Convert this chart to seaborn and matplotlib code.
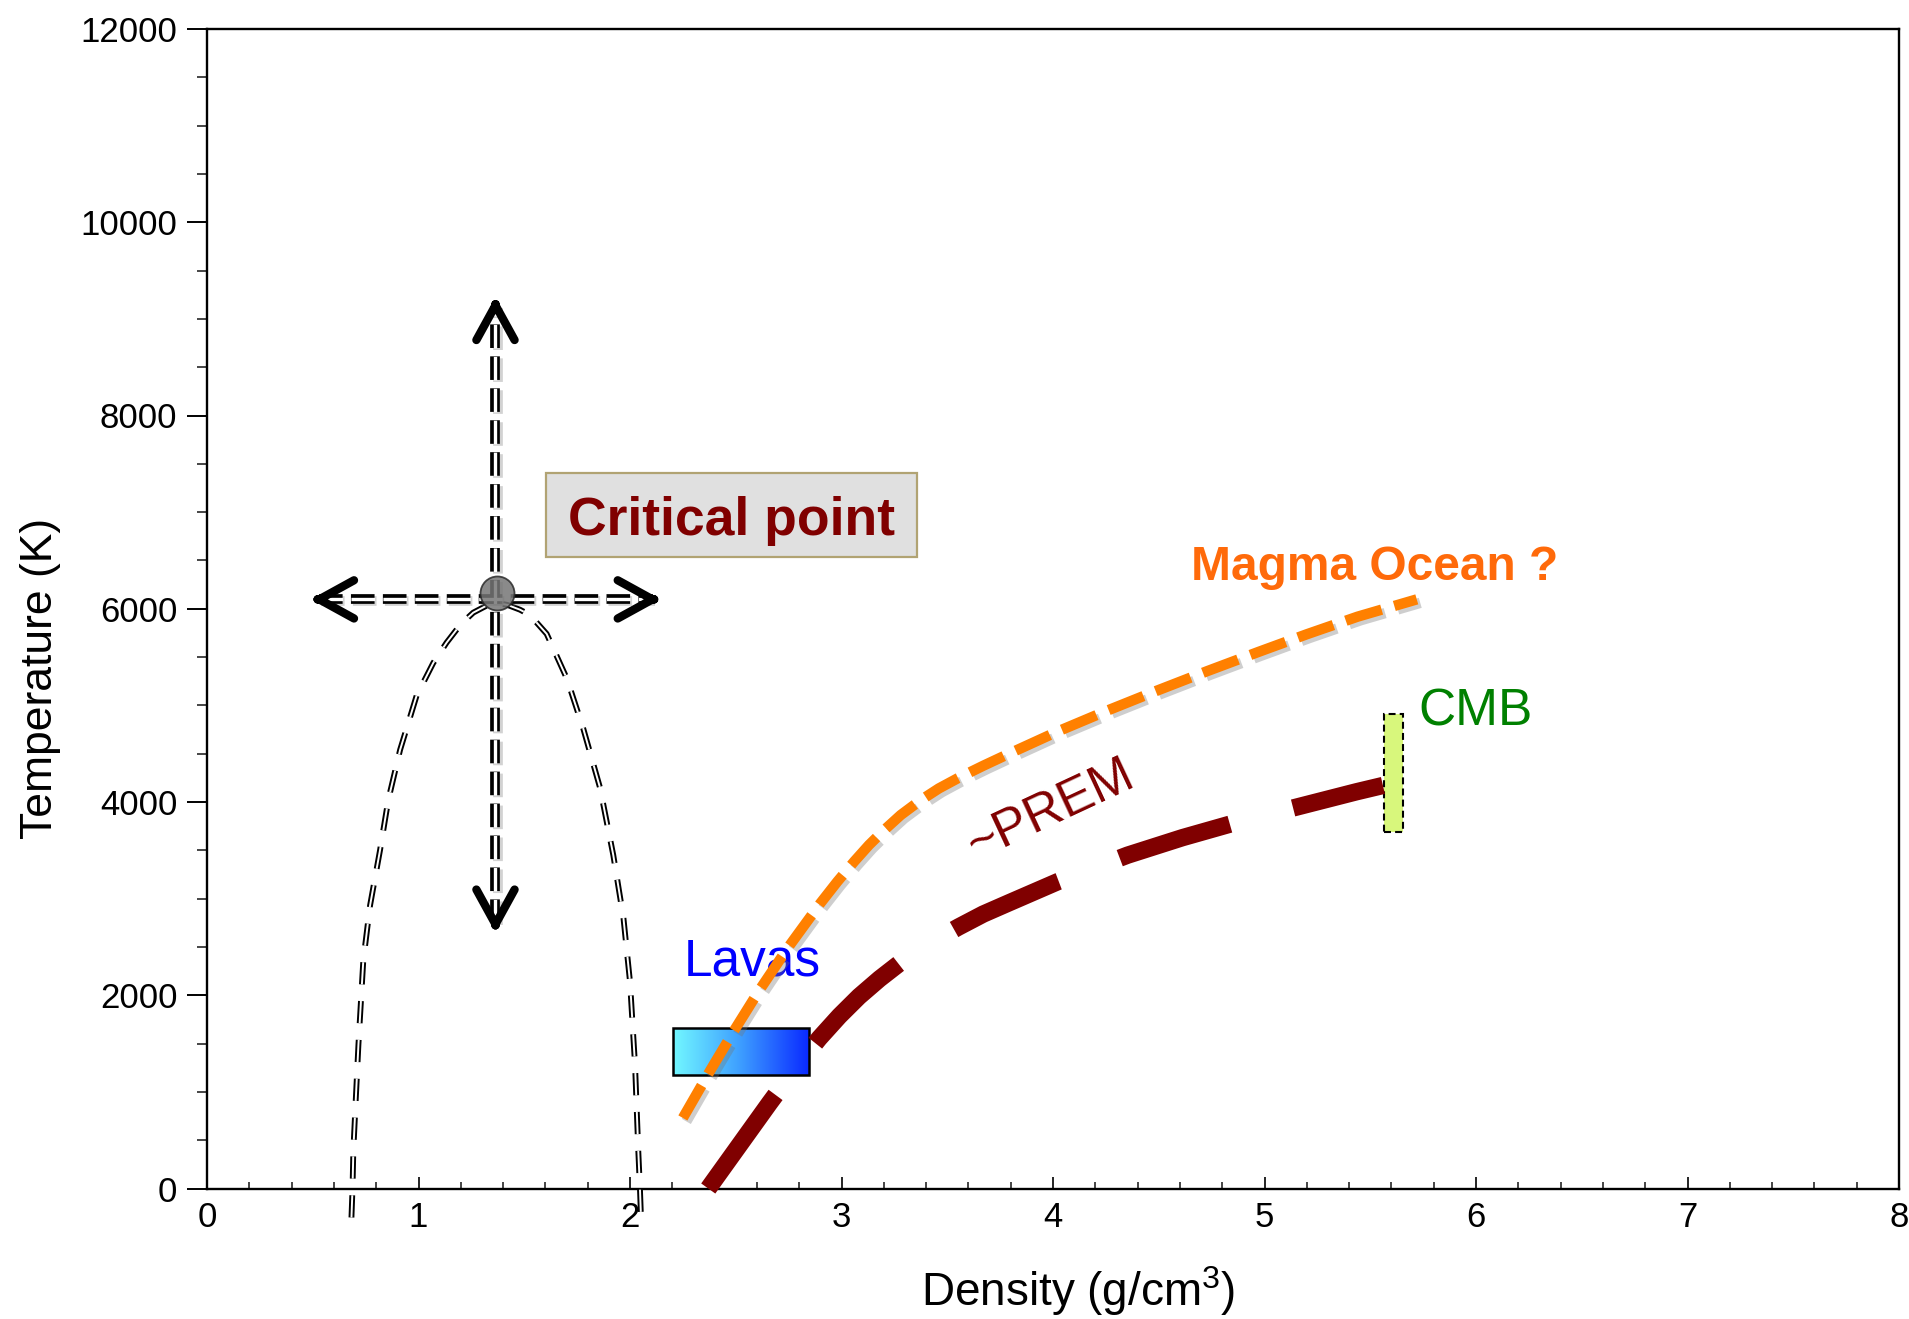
import numpy as np
import pandas as pd
import matplotlib
matplotlib.use("Agg")
import matplotlib.pyplot as plt
import matplotlib.patheffects as pe
import seaborn as sns
from matplotlib.patches import Rectangle
from matplotlib.colors import LinearSegmentedColormap
from matplotlib.ticker import MultipleLocator

# ---- data -------------------------------------------------------------
# liquid-vapour coexistence dome (left branch, over the top, right branch)
dome_density = [0.683, 0.688, 0.692, 0.704, 0.716, 0.739, 0.771, 0.818, 0.857,
                0.913, 0.991, 1.070, 1.133, 1.200, 1.259, 1.320, 1.370, 1.420,
                1.480, 1.527, 1.606, 1.701, 1.779, 1.858, 1.921, 1.969, 2.000,
                2.024, 2.039, 2.047, 2.052]
dome_temp = [-300, 0, 400, 950, 1490, 2360, 2930, 3500, 4020,
             4540, 5100, 5440, 5650, 5840, 5960, 6030, 6060, 6040,
             5990, 5935, 5740, 5280, 4760, 4150, 3450, 2800, 2140,
             1270, 400, 0, -300]

# magma ocean path
magma_density = [2.25, 2.38, 2.50, 2.61, 2.75, 2.90, 2.98, 3.06, 3.13, 3.20,
                 3.28, 3.37, 3.46, 3.55, 3.67, 3.79, 4.02, 4.26, 4.49, 4.73,
                 4.97, 5.20, 5.44, 5.72]
magma_temp = [730, 1224, 1662, 2047, 2502, 2952, 3175, 3384, 3555, 3706,
              3865, 4012, 4140, 4246, 4375, 4498, 4728, 4949, 5151, 5355,
              5552, 5736, 5918, 6097]

# approximate PREM geotherm
prem_density = [2.37, 2.66, 2.78, 2.895, 2.99, 3.083, 3.18, 3.271, 3.41,
                3.553, 3.67, 3.789, 4.024, 4.353, 4.612, 4.847, 5.176, 5.435,
                5.56]
prem_temp = [0, 885, 1240, 1555, 1785, 1987, 2170, 2325, 2530,
             2706, 2840, 2954, 3177, 3450, 3631, 3777, 3961, 4106,
             4171]

# critical point and the arrows leaving it
critical_density = 1.372
critical_temp = 6160
arrow_density_span = [0.49, 2.147]
arrow_temp_level = 6097
arrow_temp_span = [2645, 9230]

# lavas and core-mantle boundary ranges
lavas_density = [2.205, 2.848]
lavas_temp = [1175, 1658]
cmb_density = [5.565, 5.655]
cmb_temp = [3690, 4910]

# label box of the critical point
cp_box_density = [1.603, 3.356]
cp_box_temp = [6535, 7409]

x_major = [0, 1, 2, 3, 4, 5, 6, 7, 8]
y_major = [0, 2000, 4000, 6000, 8000, 10000, 12000]

# ---- style ------------------------------------------------------------
sns.set_theme(style="white")
plt.rcParams["font.family"] = ["Liberation Sans", "DejaVu Sans"]
plt.rcParams["mathtext.fontset"] = "custom"
plt.rcParams["mathtext.rm"] = "Liberation Sans"
plt.rcParams["lines.scale_dashes"] = False

W, H = 1909, 1319
fig = plt.figure(figsize=(W / 100, H / 100), dpi=100)
ax = fig.add_axes([207 / W, 1 - 1188.5 / H, 1692 / W, (1188.5 - 29) / H])


def double_dashed(xs, ys, outer, inner, dash, gap, shadow=False, z=3):
    df = pd.DataFrame({"x": xs, "y": ys})
    effects = None
    if shadow:
        effects = [pe.SimpleLineShadow(offset=(1.5, -1.5), shadow_color="0.5",
                                       alpha=0.35), pe.Normal()]
    sns.lineplot(data=df, x="x", y="y", sort=False, estimator=None, ax=ax,
                 color="black", linewidth=outer, linestyle=(0, (dash, gap)),
                 clip_on=False, zorder=z, path_effects=effects)
    sns.lineplot(data=df, x="x", y="y", sort=False, estimator=None, ax=ax,
                 color="white", linewidth=inner, linestyle=(0, (dash, gap)),
                 clip_on=False, zorder=z + 0.1)


# coexistence dome
double_dashed(dome_density, dome_temp, 4.2, 1.4, 16, 12, z=3)

# arrows from the critical point
cx = critical_density - 0.008
double_dashed([arrow_density_span[0] + 0.04, arrow_density_span[1] - 0.04],
              [arrow_temp_level, arrow_temp_level],
              7.0, 2.4, 17, 6, shadow=True, z=4)
double_dashed([cx, cx], [arrow_temp_span[0] + 100, arrow_temp_span[1] - 100],
              7.0, 2.4, 17, 6, shadow=True, z=4)

head = dict(arrowstyle="->,head_length=1.0,head_width=0.55", mutation_scale=25,
            lw=6, color="black", shrinkA=0, shrinkB=0, capstyle="round")
ax.annotate("", xy=(arrow_density_span[0], arrow_temp_level),
            xytext=(arrow_density_span[0] + 0.05, arrow_temp_level),
            arrowprops=head, zorder=5)
ax.annotate("", xy=(arrow_density_span[1], arrow_temp_level),
            xytext=(arrow_density_span[1] - 0.05, arrow_temp_level),
            arrowprops=head, zorder=5)
ax.annotate("", xy=(cx, arrow_temp_span[1]),
            xytext=(cx, arrow_temp_span[1] - 120), arrowprops=head, zorder=5)
ax.annotate("", xy=(cx, arrow_temp_span[0]),
            xytext=(cx, arrow_temp_span[0] + 120), arrowprops=head, zorder=5)

# critical point marker
sns.scatterplot(x=[critical_density], y=[critical_temp], ax=ax, s=600,
                color="#767676", edgecolor="#2a2a2a", linewidth=1.3,
                alpha=0.85, zorder=6)

# critical point label box
ax.add_patch(Rectangle((cp_box_density[0], cp_box_temp[0]),
                       cp_box_density[1] - cp_box_density[0],
                       cp_box_temp[1] - cp_box_temp[0],
                       facecolor="#e0e0e0", edgecolor="#b1a373", lw=1.6,
                       zorder=4))
ax.text(sum(cp_box_density) / 2, 6760, "Critical point", ha="center",
        va="baseline", fontsize=38.5, fontweight="bold", color="#800000",
        zorder=5)

# lavas box with cyan-to-blue gradient
lava_cmap = LinearSegmentedColormap.from_list(
    "lavas", ["#72f8ff", "#3d9dff", "#0a2aff"])
ax.imshow(np.linspace(0, 1, 256).reshape(1, -1), cmap=lava_cmap,
          extent=[lavas_density[0], lavas_density[1], lavas_temp[0], lavas_temp[1]],
          aspect="auto", zorder=3)
ax.add_patch(Rectangle((lavas_density[0], lavas_temp[0]),
                       lavas_density[1] - lavas_density[0],
                       lavas_temp[1] - lavas_temp[0],
                       facecolor="none", edgecolor="black", lw=1.8, zorder=3.1))
ax.text(2.577, 2208, "Lavas", ha="center", va="baseline", fontsize=37,
        color="#0000ff", zorder=3.5)

# CMB range
ax.add_patch(Rectangle((cmb_density[0], cmb_temp[0]),
                       cmb_density[1] - cmb_density[0],
                       cmb_temp[1] - cmb_temp[0],
                       facecolor="#d8f77c", edgecolor="black", lw=1.5,
                       linestyle=(0, (5, 3)), zorder=3))
ax.text(5.727, 4793, "CMB", ha="left", va="baseline", fontsize=37,
        color="#008000")

# PREM geotherm
sns.lineplot(x=prem_density, y=prem_temp, sort=False, estimator=None, ax=ax,
             color="#800000", linewidth=12.5, linestyle=(0, (83, 47)),
             zorder=4, clip_on=False)
ax.text(3.988, 3919, "~PREM", ha="center", va="center", rotation=25,
        rotation_mode="anchor", fontsize=37, color="#800000")

# magma ocean path
sns.lineplot(x=magma_density, y=magma_temp, sort=False, estimator=None, ax=ax,
             color="#ff8000", linewidth=7.5, linestyle=(0, (27, 9.5)),
             zorder=5,
             path_effects=[pe.SimpleLineShadow(offset=(2.5, -2.5),
                                               shadow_color="0.45", alpha=0.35),
                           pe.Normal()])
ax.text(4.652, 6301, "Magma Ocean ?", ha="left", va="baseline", fontsize=34.5,
        fontweight="bold", color="#ff6a0a")

# ---- axes -------------------------------------------------------------
ax.set_xlim(0, 8)
ax.set_ylim(0, 12000)
ax.set_xticks(x_major)
ax.set_yticks(y_major)
ax.xaxis.set_minor_locator(MultipleLocator(0.2))
ax.yaxis.set_minor_locator(MultipleLocator(500))
ax.tick_params(axis="x", which="major", direction="in", length=8.6, width=1.2,
               pad=9, labelsize=25, colors="black", bottom=True)
ax.tick_params(axis="x", which="minor", direction="in", length=4.8, width=1.2,
               bottom=True)
ax.tick_params(axis="y", which="major", direction="out", length=14.4, width=1.4,
               pad=7, labelsize=25, colors="black", left=True)
ax.tick_params(axis="y", which="minor", direction="out", length=7.2, width=1.2,
               left=True)
for side in ["left", "right", "top", "bottom"]:
    ax.spines[side].set_visible(True)
    ax.spines[side].set_color("black")
    ax.spines[side].set_linewidth(1.7)
ax.grid(False)

ax.set_xlabel(r"Density (g/cm$^{\mathregular{3}}$)", fontsize=33, color="black")
ax.xaxis.label.set_verticalalignment("baseline")
ax.xaxis.set_label_coords(0.515, -0.1013)
ax.set_ylabel("Temperature (K)", fontsize=32, color="black")
ax.yaxis.label.set_verticalalignment("center")
ax.yaxis.set_label_coords(-0.0984, 0.44)

fig.savefig("out.png", dpi=100, facecolor="white")
